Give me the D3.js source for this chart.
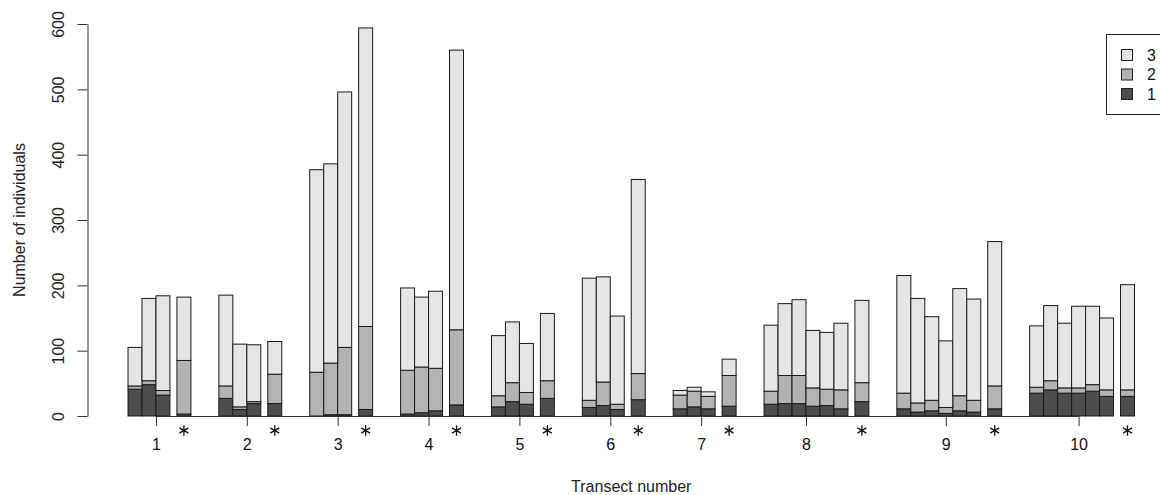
<!DOCTYPE html>
<html>
<head>
<meta charset="utf-8">
<script src="https://cdn.jsdelivr.net/npm/d3@7"></script>
<style>
  body { margin: 0; background: #fff; }
  text { font-family: "Liberation Sans", Arial, sans-serif; }
</style>
</head>
<body>
<svg id="transect-chart"></svg>
<script>
// data: per transect, the regular bars then the starred bar
const transects = ["1", "2", "3", "4", "5", "6", "7", "8", "9", "10"];
const class1 = [[41, 48, 32], [27, 10, 19], [0, 2, 2], [3, 5, 8], [14, 22, 18], [13, 16, 10],
  [11, 14, 11], [18, 19, 19, 15, 16, 11], [11, 6, 8, 4, 8, 6], [35, 40, 35, 35, 38, 30]];
const class2 = [[5, 6, 7], [19, 4, 3], [67, 79, 103], [67, 70, 65], [17, 29, 18], [11, 36, 8],
  [21, 24, 19], [20, 43, 43, 28, 25, 29], [24, 14, 16, 9, 23, 18], [9, 14, 8, 8, 10, 10]];
const class3 = [[59, 126, 145], [139, 96, 87], [310, 305, 391], [126, 107, 118], [92, 93, 75], [187, 161, 135],
  [7, 6, 7], [101, 110, 116, 88, 87, 102], [180, 160, 128, 102, 164, 155], [94, 115, 99, 125, 120, 110]];
const starClass1 = [3, 19, 10, 17, 27, 25, 15, 22, 11, 30];
const starClass2 = [82, 45, 127, 115, 27, 40, 47, 29, 35, 10];
const starClass3 = [97, 50, 457, 428, 103, 297, 25, 126, 221, 161];
// where the transect label sits, counted in bar widths from the first bar
const tickOffset = [2, 2, 2, 2, 2, 2, 2, 3, 3.5, 3.5];
const yTicks = [0, 100, 200, 300, 400, 500, 600];
const classes = ["3", "2", "1"];

const width = 1160;
const height = 495;
const plot = {left: 128, right: 1134.5, top: 24, bottom: 416};

const keys = ["c1", "c2", "c3"];
const color = d3.scaleOrdinal()
  .domain(keys)
  .range(["#4d4d4d", "#b3b3b3", "#e5e5e5"]);

// build bar table: every group = bars, half gap, starred bar, then 2 bar gap
const bars = [];
const groups = [];
let pos = 0;
transects.forEach((t, g) => {
  const start = pos;
  class1[g].forEach((v, i) => {
    bars.push({x: pos, c1: v, c2: class2[g][i], c3: class3[g][i]});
    pos += 1;
  });
  pos += 0.5;
  bars.push({x: pos, c1: starClass1[g], c2: starClass2[g], c3: starClass3[g], star: true});
  pos += 1;
  groups.push({label: t, tick: start + tickOffset[g]});
  pos += 2;
});
const totalUnits = pos - 2;

// scales
const xScale = d3.scaleLinear()
  .domain([0, totalUnits])
  .range([plot.left, plot.right]);

const yScale = d3.scaleLinear()
  .domain([0, 600])
  .range([plot.bottom, plot.top]);

const bw = xScale(1) - xScale(0);

const svg = d3.select("#transect-chart")
  .attr("width", width)
  .attr("height", height);

svg.append("rect")
  .attr("width", width)
  .attr("height", height)
  .attr("fill", "#fff");

// stacked bars
const series = d3.stack().keys(keys)(bars);

series.forEach(layer => {
  svg.append("g")
    .selectAll("rect")
    .data(layer)
    .enter()
    .append("rect")
    .attr("x", d => xScale(d.data.x))
    .attr("y", d => yScale(d[1]))
    .attr("width", bw)
    .attr("height", d => yScale(d[0]) - yScale(d[1]))
    .attr("fill", color(layer.key))
    .attr("stroke", "#1a1a1a")
    .attr("stroke-width", 1);
});

// x axis: line between first and last tick, ticks down, labels
const xAxis = d3.axisBottom(xScale)
  .tickValues(groups.map(d => d.tick))
  .tickFormat((d, i) => groups[i].label)
  .tickSize(10)
  .tickSizeOuter(0)
  .tickPadding(13);

const gx = svg.append("g")
  .attr("transform", `translate(0, ${plot.bottom})`)
  .call(xAxis);
gx.select(".domain")
  .attr("d", `M${xScale(groups[0].tick)},0.5H${xScale(groups[groups.length - 1].tick)}`)
  .attr("stroke", "#333");
gx.selectAll(".tick line").attr("stroke", "#333");
gx.selectAll(".tick text")
  .attr("font-size", 16)
  .attr("fill", "#111")
  .attr("font-family", "'Liberation Sans', Arial, sans-serif");

// asterisks under the starred bars
svg.append("g")
  .selectAll("path")
  .data(bars.filter(d => d.star))
  .enter()
  .append("path")
  .attr("transform", d => `translate(${xScale(d.x + 0.5)}, ${plot.bottom + 14.5})`)
  .attr("d", d3.symbol().type(d3.symbolAsterisk).size(75))
  .attr("fill", "none")
  .attr("stroke", "#111")
  .attr("stroke-width", 1.3);

// y axis with rotated labels
const yAxis = d3.axisLeft(yScale)
  .tickValues(yTicks)
  .tickSize(10)
  .tickSizeOuter(0)
  .tickFormat(d3.format("d"));

const gy = svg.append("g")
  .attr("transform", `translate(87.5, 0)`)
  .call(yAxis);
gy.select(".domain").attr("stroke", "#333");
gy.selectAll(".tick line").attr("stroke", "#333");
gy.selectAll(".tick text")
  .attr("font-size", 16)
  .attr("fill", "#222")
  .attr("font-family", "'Liberation Sans', Arial, sans-serif")
  .attr("x", null)
  .attr("dy", null)
  .attr("text-anchor", "middle")
  .attr("transform", "translate(-24, 0) rotate(-90)");

// axis titles
svg.append("text")
  .attr("x", (plot.left + plot.right) / 2)
  .attr("y", 492)
  .attr("text-anchor", "middle")
  .attr("font-size", 16)
  .attr("fill", "#222")
  .text("Transect number");

svg.append("text")
  .attr("transform", `translate(25, 220) rotate(-90)`)
  .attr("text-anchor", "middle")
  .attr("font-size", 16)
  .attr("fill", "#222")
  .text("Number of individuals");

// legend
const legendBox = svg.append("g");
legendBox.append("rect")
  .attr("x", 1106.5)
  .attr("y", 34.5)
  .attr("width", 80)
  .attr("height", 80)
  .attr("fill", "#fff")
  .attr("stroke", "#222");

const legend = legendBox.selectAll(".legend")
  .data(classes)
  .enter().append("g")
  .attr("class", "legend")
  .attr("transform", (d, i) => `translate(0, ${55 + i * 19.5})`);
legend.append("rect")
  .attr("x", 1121.5)
  .attr("y", -5.5)
  .attr("width", 11)
  .attr("height", 11)
  .attr("fill", d => color("c" + d))
  .attr("stroke", "#222");
legend.append("text")
  .attr("x", 1147)
  .attr("y", 0)
  .attr("dy", ".35em")
  .attr("font-size", 16)
  .attr("fill", "#111")
  .text(d => d);
</script>
</body>
</html>
